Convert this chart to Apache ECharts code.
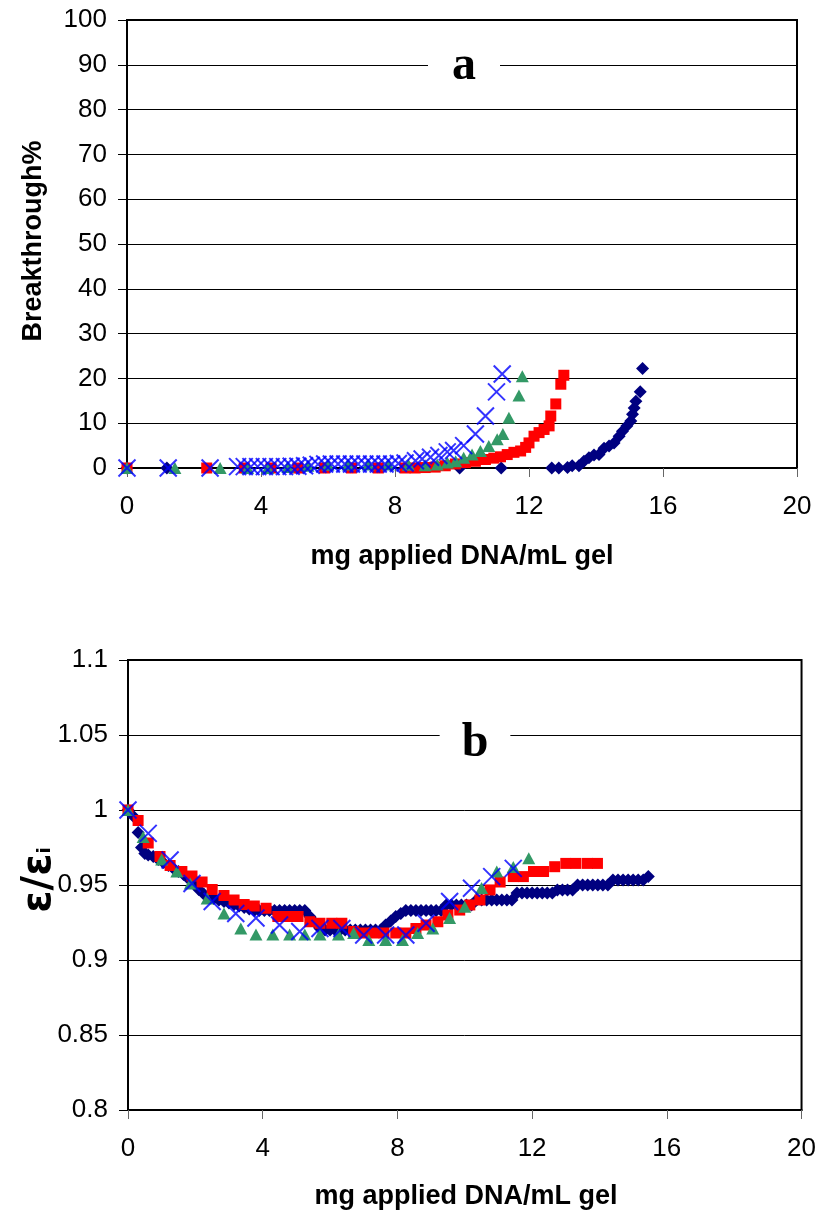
<!DOCTYPE html>
<html>
<head>
<meta charset="utf-8">
<script src="https://cdn.jsdelivr.net/npm/echarts@6/dist/echarts.min.js"></script>
<style>
  html, body { margin: 0; padding: 0; background: #fff; }
  #chart { width: 819px; height: 1210px; }
</style>
</head>
<body>
<div id="chart"></div>
<script>
// ---------- Panel a: Breakthrough% vs mg applied DNA/mL gel ----------
const aNavy = [[0,0],[1.19,0],[9.93,0],[11.17,0],[12.68,0],[12.89,0],[13.15,0.1],[13.29,0.5],[13.49,0.5],[13.64,1.5],[13.79,2.3],[13.94,2.9],[14.09,3.0],[14.24,4.4],[14.39,4.9],[14.54,5.6],[14.69,7.1],[14.79,8.2],[14.92,9.4],[15.04,10.5],[15.09,12.0],[15.14,13.4],[15.19,14.9],[15.32,17.0],[15.39,22.2]];
const aRed = [[0,0],[2.38,0],[3.5,0],[4.3,0],[5.1,0],[5.9,0],[6.7,0],[7.5,0],[8.3,0],[8.6,0],[8.9,0.1],[9.2,0.2],[9.5,0.5],[9.8,0.9],[10.1,1.2],[10.4,1.5],[10.7,1.9],[10.95,2.2],[11.15,2.5],[11.35,3.0],[11.55,3.5],[11.75,3.8],[11.9,4.6],[12.0,5.6],[12.15,7.1],[12.3,7.9],[12.45,8.6],[12.6,9.4],[12.65,11.6],[12.8,14.3],[12.95,18.7],[13.04,20.7]];
const aGreen = [[0,0],[1.43,0],[2.78,0],[3.6,0],[4.2,0],[4.8,0.2],[5.4,0.5],[6.0,0.7],[6.6,0.8],[7.2,0.8],[7.8,0.8],[8.4,0.7],[8.9,0.6],[9.26,0.8],[9.56,1.2],[9.81,1.5],[10.05,2.3],[10.3,3.0],[10.55,3.8],[10.8,4.9],[11.05,6.4],[11.22,7.6],[11.4,11.2],[11.7,16.2],[11.8,20.5]];
const aBlue = [[0,0],[1.23,0],[2.48,0],[3.3,0.3],[3.5,0.3],[3.7,0.3],[3.9,0.3],[4.1,0.3],[4.3,0.3],[4.5,0.3],[4.7,0.3],[4.9,0.4],[5.1,0.4],[5.3,0.5],[5.5,0.6],[5.7,0.8],[5.9,0.9],[6.1,0.9],[6.3,0.9],[6.5,0.9],[6.7,0.9],[6.9,0.9],[7.1,0.9],[7.3,0.9],[7.5,0.9],[7.7,0.9],[7.9,0.9],[8.1,1.0],[8.3,1.1],[8.61,1.6],[8.81,2.0],[9.06,2.4],[9.31,2.8],[9.56,3.6],[9.75,3.9],[10.05,5.0],[10.4,7.6],[10.7,11.6],[11.03,17.0],[11.2,21.0]];

// ---------- Panel b: ε/εi vs mg applied DNA/mL gel ----------
const bNavy = [[0,1.0],[0.15,0.996],[0.3,0.985],[0.4,0.975],[0.5,0.971],[0.6,0.970],[0.75,0.969],[0.9,0.967],[1.05,0.965],[1.2,0.963],[1.35,0.961],[1.5,0.959],[1.65,0.957],[1.8,0.954],[1.95,0.951],[2.1,0.947],[2.25,0.944],[2.4,0.942],[2.55,0.941],[2.7,0.940],[2.85,0.939],[3.0,0.938],[3.15,0.937],[3.3,0.936],[3.45,0.935],[3.6,0.934],[3.75,0.933],[3.9,0.933],[4.05,0.933],[4.2,0.933],[4.35,0.933],[4.5,0.933],[4.65,0.933],[4.8,0.933],[4.95,0.933],[5.1,0.933],[5.25,0.933],[5.4,0.929],[5.55,0.925],[5.7,0.921],[5.85,0.92],[6.0,0.92],[6.15,0.92],[6.3,0.92],[6.45,0.92],[6.6,0.92],[6.75,0.92],[6.9,0.92],[7.05,0.92],[7.2,0.92],[7.35,0.92],[7.5,0.92],[7.65,0.9233],[7.8,0.926],[7.95,0.929],[8.1,0.931],[8.25,0.933],[8.4,0.933],[8.55,0.933],[8.7,0.933],[8.85,0.933],[9.0,0.933],[9.15,0.933],[9.3,0.933],[9.45,0.9367],[9.6,0.9367],[9.75,0.9367],[9.9,0.9367],[10.05,0.9367],[10.2,0.9367],[10.35,0.94],[10.5,0.94],[10.65,0.94],[10.8,0.94],[10.95,0.94],[11.1,0.94],[11.25,0.94],[11.4,0.94],[11.55,0.9447],[11.7,0.9447],[11.85,0.9447],[12.0,0.9447],[12.15,0.9447],[12.3,0.9447],[12.45,0.9447],[12.6,0.9447],[12.75,0.9467],[12.9,0.9467],[13.05,0.9467],[13.2,0.9467],[13.35,0.95],[13.5,0.95],[13.65,0.95],[13.8,0.95],[13.95,0.95],[14.1,0.95],[14.25,0.95],[14.4,0.9533],[14.55,0.9533],[14.7,0.9533],[14.85,0.9533],[15.0,0.9533],[15.15,0.9533],[15.3,0.9533],[15.45,0.9556]];
const bRed = [[0,1.0],[0.3,0.993],[0.6,0.978],[0.95,0.969],[1.25,0.963],[1.6,0.959],[1.9,0.956],[2.2,0.952],[2.5,0.947],[2.85,0.943],[3.15,0.940],[3.45,0.937],[3.75,0.936],[4.1,0.9345],[4.45,0.929],[4.75,0.929],[5.05,0.929],[5.4,0.9255],[5.7,0.9245],[6.05,0.9245],[6.35,0.9245],[6.7,0.919],[7.0,0.918],[7.3,0.918],[7.6,0.918],[7.95,0.918],[8.25,0.918],[8.55,0.921],[8.85,0.9233],[9.2,0.9255],[9.5,0.930],[9.85,0.9333],[10.15,0.9367],[10.45,0.940],[10.75,0.9467],[11.05,0.952],[11.44,0.9556],[11.74,0.9556],[12.04,0.959],[12.34,0.959],[12.67,0.9622],[13.0,0.9644],[13.3,0.9644],[13.64,0.9644],[13.94,0.9644]];
const bGreen = [[0,1.0],[0.45,0.982],[1.0,0.967],[1.45,0.959],[1.85,0.951],[2.35,0.941],[2.85,0.931],[3.35,0.921],[3.8,0.917],[4.3,0.917],[4.8,0.917],[5.25,0.917],[5.7,0.917],[6.25,0.917],[6.7,0.918],[7.15,0.9133],[7.65,0.9133],[8.15,0.9133],[8.6,0.918],[9.05,0.921],[9.55,0.928],[10.0,0.9355],[10.5,0.948],[10.95,0.959],[11.44,0.962],[11.9,0.9678]];
const bBlue = [[0,1.0],[0.6,0.9844],[1.25,0.9667],[1.9,0.951],[2.5,0.939],[3.2,0.931],[3.8,0.928],[4.5,0.9233],[5.1,0.919],[5.7,0.921],[6.35,0.921],[7.0,0.9167],[7.65,0.9167],[8.25,0.9167],[8.85,0.9245],[9.55,0.939],[10.2,0.9478],[10.8,0.9556],[11.44,0.9611]];

const xAxisName = 'mg applied DNA/mL gel';
const aYName = 'Breakthrough%';

const FONT = '"Liberation Sans", Arial, sans-serif';
const NAVY = '#000080', RED = '#FF0000', GREEN = '#339966', BLUE = '#0000FF';
const XPATH = 'path://M0,0L10,10M0,10L10,0';

function xAx(gi) {
  return {
    gridIndex: gi, type: 'value', min: 0, max: 20, interval: 4,
    axisLine: { show: true, onZero: false, lineStyle: { color: '#000', width: 2 } },
    axisTick: { show: true, inside: false, length: 9, lineStyle: { color: '#666', width: 1 } },
    axisLabel: { fontSize: 26, color: '#000', fontFamily: FONT, margin: 26 },
    splitLine: { show: false }
  };
}
function yAx(gi, min, max, interval) {
  return {
    gridIndex: gi, type: 'value', min: min, max: max, interval: interval,
    axisLine: { show: true, onZero: false, lineStyle: { color: '#000', width: 2 } },
    axisTick: { show: true, inside: false, length: 9, lineStyle: { color: '#000', width: 1 } },
    axisLabel: { fontSize: 26, color: '#000', fontFamily: FONT, margin: 20 },
    splitLine: { show: true, lineStyle: { color: '#000', width: 1 } }
  };
}
function sc(data, gi, symbol, size, color, isX) {
  return {
    type: 'scatter', xAxisIndex: gi, yAxisIndex: gi, data: data,
    symbol: symbol, symbolSize: size, clip: false, silent: true,
    itemStyle: isX ? { color: 'rgba(0,0,0,0)', borderColor: color, borderWidth: 2 } : { color: color, opacity: 1 },
    emphasis: { disabled: true }
  };
}

const chart = echarts.init(document.getElementById('chart'), null, { renderer: 'canvas' });
chart.setOption({
  animation: false,
  backgroundColor: '#fff',
  grid: [
    { left: 127, top: 20, width: 670, height: 448, show: true, borderColor: '#000', borderWidth: 2, backgroundColor: 'transparent' },
    { left: 128, top: 660, width: 676, height: 450, show: true, borderColor: '#000', borderWidth: 2, backgroundColor: 'transparent' }
  ],
  xAxis: [xAx(0), xAx(1)],
  yAxis: [yAx(0, 0, 100, 10), yAx(1, 0.8, 1.1, 0.05)],
  series: [
    sc(aNavy, 0, 'diamond', 13, NAVY),
    sc(aRed, 0, 'rect', 11, RED),
    sc(aGreen, 0, 'triangle', [13, 12], GREEN),
    sc(aBlue, 0, XPATH, 17, BLUE, true),
    sc(bNavy, 1, 'diamond', 13, NAVY),
    sc(bRed, 1, 'rect', 11, RED),
    sc(bGreen, 1, 'triangle', [13, 12], GREEN),
    sc(bBlue, 1, XPATH, 17, BLUE, true)
  ],
  graphic: [
    { type: 'text', x: 34, y: 241, rotation: Math.PI / 2,
      style: { text: aYName, font: 'bold 27px "Liberation Sans", Arial, sans-serif', fill: '#000', align: 'center', verticalAlign: 'middle' } },
    { type: 'text', x: 462, y: 557,
      style: { text: xAxisName, font: 'bold 27px "Liberation Sans", Arial, sans-serif', fill: '#000', align: 'center', verticalAlign: 'middle' } },
    { type: 'text', x: 466, y: 1197,
      style: { text: xAxisName, font: 'bold 27px "Liberation Sans", Arial, sans-serif', fill: '#000', align: 'center', verticalAlign: 'middle' } },
    { type: 'text', x: 40, y: 880, rotation: Math.PI / 2,
      style: { text: '{e|ε/ε}{s|i}', align: 'center', verticalAlign: 'middle', fill: '#000',
        rich: {
          e: { fontSize: 40, fontWeight: 'bold', fontFamily: '"DejaVu Sans", sans-serif', fill: '#000' },
          s: { fontSize: 18, fontWeight: 'bold', fontFamily: '"DejaVu Sans", sans-serif', fill: '#000', padding: [10, 0, 0, 0] }
        } } },
    { type: 'text', x: 464, y: 67, z: 100,
      style: { text: 'a', font: 'bold 48px "Liberation Serif", "Times New Roman", serif', fill: '#000', align: 'center', verticalAlign: 'middle',
        backgroundColor: '#fff', padding: [0, 24, 0, 24] } },
    { type: 'text', x: 475, y: 744, z: 100,
      style: { text: 'b', font: 'bold 48px "Liberation Serif", "Times New Roman", serif', fill: '#000', align: 'center', verticalAlign: 'middle',
        backgroundColor: '#fff', padding: [0, 22, 0, 22] } }
  ]
});
</script>
</body>
</html>
